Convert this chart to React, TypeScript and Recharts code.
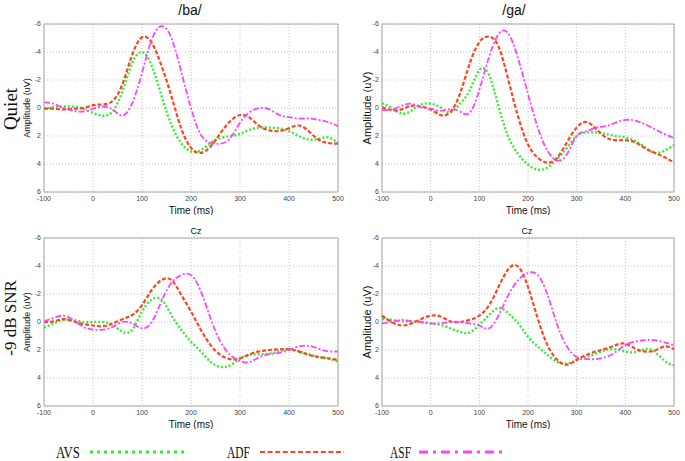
import { CartesianGrid, Line, LineChart, ReferenceArea, XAxis, YAxis } from "recharts";

// sample times (ms), every 20 ms
const TIME = [-100, -80, -60, -40, -20, 0, 20, 40, 60, 80, 100, 120, 140, 160, 180, 200, 220, 240, 260, 280, 300, 320, 340, 360, 380, 400, 420, 440, 460, 480, 500];
const X_TICKS = [-100, 0, 100, 200, 300, 400, 500];
const Y_TICKS = [-6, -4, -2, 0, 2, 4, 6];

// /ba/ quiet
const BA_QUIET_AVS = [0.05, -0.05, -0.1, -0.1, 0.05, 0.35, 0.55, 0.25, -1.2, -3.2, -4.0, -3.0, -0.85, 1.2, 2.5, 3.1, 3.0, 2.5, 2.15, 2.0, 1.85, 1.55, 1.4, 1.4, 1.45, 1.65, 2.0, 2.25, 2.2, 2.1, 2.5];
const BA_QUIET_ADF = [0.05, 0.05, 0.1, 0.05, 0, -0.2, -0.25, -0.5, -1.7, -3.8, -5.05, -4.65, -3.0, -0.85, 1.45, 2.85, 3.2, 2.75, 1.8, 0.95, 0.5, 0.7, 1.3, 1.6, 1.65, 1.45, 1.25, 1.65, 2.25, 2.5, 2.55];
const BA_QUIET_ASF = [-0.4, -0.3, 0.0, 0.2, 0.25, 0.05, -0.1, 0.1, 0.55, -0.35, -2.5, -4.9, -5.85, -5.0, -2.6, 0, 1.9, 2.5, 2.55, 2.15, 1.05, 0.3, 0, 0.1, 0.5, 0.65, 0.75, 0.75, 0.85, 1.0, 1.3];

// /ga/ quiet
const GA_QUIET_AVS = [-0.35, 0, 0.4, 0.2, -0.25, -0.3, -0.05, 0.3, -0.3, -1.25, -2.7, -2.35, -0.05, 2.1, 3.3, 4.05, 4.4, 4.25, 3.65, 2.85, 2.0, 1.75, 1.75, 1.85, 2.0, 2.1, 2.35, 2.8, 3.2, 3.05, 2.65];
const GA_QUIET_ADF = [-0.05, 0.15, 0.1, -0.15, -0.1, 0.1, 0.5, 0.3, -1.0, -3.15, -4.7, -5.1, -4.35, -1.95, 0.65, 2.6, 3.55, 3.9, 3.55, 2.45, 1.4, 1.0, 1.5, 2.1, 2.3, 2.3, 2.45, 2.85, 3.2, 3.5, 3.9];
const GA_QUIET_ASF = [0.15, 0.1, -0.15, -0.3, -0.05, 0.05, 0.2, 0.1, 0.25, 0.35, -1.3, -3.65, -5.3, -5.3, -3.5, -1.0, 1.4, 3.05, 3.75, 3.3, 2.0, 1.65, 1.4, 1.3, 1.05, 0.85, 0.9, 1.15, 1.5, 1.85, 2.15];

// /ba/ -9 dB SNR
const BA_NOISE_AVS = [0.4, 0.1, -0.15, -0.15, 0, 0, 0, 0.2, 0.7, 0.55, -0.75, -1.6, -1.6, -0.5, 0.55, 1.4, 2.1, 2.85, 3.2, 3.1, 2.6, 2.35, 2.3, 2.25, 2.1, 1.95, 2.1, 2.3, 2.5, 2.6, 2.85];
const BA_NOISE_ADF = [0, -0.05, -0.2, -0.05, 0.15, 0.25, 0.3, 0.1, -0.2, -0.5, -1.2, -2.3, -3.0, -3.0, -1.95, -0.75, 0.55, 1.65, 2.35, 2.65, 2.6, 2.3, 2.1, 2.0, 1.95, 1.95, 2.1, 2.35, 2.5, 2.6, 2.7];
const BA_NOISE_ASF = [-0.05, -0.3, -0.45, -0.15, 0.35, 0.55, 0.55, 0.35, 0, 0.1, 0.45, 0, -1.5, -2.8, -3.35, -3.35, -2.2, -0.25, 1.4, 2.35, 2.8, 2.85, 2.5, 2.3, 2.2, 2.0, 1.75, 1.7, 1.9, 2.1, 2.1];

// /ga/ -9 dB SNR
const GA_NOISE_AVS = [-0.2, -0.15, -0.05, -0.05, 0, 0.1, 0.2, 0.45, 0.7, 0.75, 0.2, -0.5, -1.0, -0.6, 0.1, 1.05, 1.75, 2.35, 2.85, 2.95, 2.75, 2.5, 2.25, 2.0, 1.95, 2.1, 2.15, 1.95, 2.1, 2.75, 3.1];
const GA_NOISE_ADF = [-0.45, 0, 0.25, 0.1, -0.2, -0.45, -0.4, -0.05, 0, -0.15, -0.45, -1.2, -2.55, -3.8, -3.95, -2.5, -0.25, 1.65, 2.7, 3.05, 2.7, 2.35, 2.1, 1.9, 1.65, 1.55, 1.9, 2.1, 2.05, 1.75, 1.95];
const GA_NOISE_ASF = [0.1, 0, -0.15, -0.05, 0, 0.1, 0.1, 0, 0, 0.1, 0.25, 0.45, -0.5, -1.95, -3.0, -3.5, -3.35, -1.95, 0.2, 1.75, 2.5, 2.65, 2.65, 2.5, 2.15, 1.65, 1.4, 1.3, 1.3, 1.45, 1.65];

const GREEN = "#33ee33";
const RED = "#ff4422";
const MAGENTA = "#ff44ff";
const SANS = "'Liberation Sans', Arial, sans-serif";
const SERIF = "'Liberation Serif', 'Times New Roman', serif";

type PanelProps = {
  left: number;
  top: number;
  height: number;
  marginLeft: number;
  marginRight: number;
  marginTop: number;
  labelSize: number;
  avs: number[];
  adf: number[];
  asf: number[];
};

function Panel({ left, top, height, marginLeft, marginRight, marginTop, labelSize, avs, adf, asf }: PanelProps) {
  const data = TIME.map((t, i) => ({ t, avs: avs[i], adf: adf[i], asf: asf[i] }));
  const tick = { fontSize: 7, fill: "#444", fontFamily: SANS };

  return (
    <div style={{ position: "absolute", left, top }}>
      <LineChart width={345} height={height} data={data}
        margin={{ top: marginTop, right: marginRight, left: marginLeft, bottom: 0 }}>
        <CartesianGrid stroke="#c4c4c4" strokeDasharray="1 2" />
        <XAxis dataKey="t" type="number" domain={[-100, 500]} ticks={X_TICKS} height={23}
          axisLine={false} tickLine={false} tickSize={0} tickMargin={4} tick={tick}
          label={{ value: "Time (ms)", position: "insideBottom", offset: 1, fontSize: 10, fill: "#111", fontFamily: SANS }} />
        <YAxis type="number" domain={[-6, 6]} ticks={Y_TICKS} reversed width={30}
          axisLine={false} tickLine={false} tickSize={0} tickMargin={3} tick={tick}
          label={{ value: "Amplitude (uV)", angle: -90, position: "insideLeft", offset: 15 - (marginLeft - 12),
            fontSize: labelSize, fill: "#111", fontFamily: SANS, style: { textAnchor: "middle" } }} />
        <ReferenceArea x1={-100} x2={500} y1={-6} y2={6} fill="none" stroke="#a8a8a8" strokeWidth={1} />
        <Line dataKey="avs" type="natural" stroke={GREEN} strokeWidth={2.4} strokeDasharray="2 2" dot={false} isAnimationActive={false} />
        <Line dataKey="adf" type="natural" stroke={RED} strokeWidth={2.2} strokeDasharray="4 2" dot={false} isAnimationActive={false} />
        <Line dataKey="asf" type="natural" stroke={MAGENTA} strokeWidth={1.8} strokeDasharray="6 2 2 2" dot={false} isAnimationActive={false} />
      </LineChart>
    </div>
  );
}

export default function App() {
  return (
    <div style={{ position: "absolute", left: 0, top: 0, width: 685, height: 461, background: "#fff", overflow: "hidden" }}>
      <Panel left={0} top={0} height={215} marginLeft={14} marginRight={7} marginTop={24} labelSize={9}
        avs={BA_QUIET_AVS} adf={BA_QUIET_ADF} asf={BA_QUIET_ASF} />
      <Panel left={340} top={0} height={215} marginLeft={12} marginRight={11} marginTop={24} labelSize={11}
        avs={GA_QUIET_AVS} adf={GA_QUIET_ADF} asf={GA_QUIET_ASF} />
      <Panel left={0} top={215} height={214} marginLeft={14} marginRight={7} marginTop={23} labelSize={9}
        avs={BA_NOISE_AVS} adf={BA_NOISE_ADF} asf={BA_NOISE_ASF} />
      <Panel left={340} top={215} height={214} marginLeft={12} marginRight={11} marginTop={23} labelSize={11}
        avs={GA_NOISE_AVS} adf={GA_NOISE_ADF} asf={GA_NOISE_ASF} />

      <svg width={685} height={461} style={{ position: "absolute", left: 0, top: 0, pointerEvents: "none" }}>
        <text x={190} y={15} fontSize={14} fontFamily={SANS} textAnchor="middle" fill="#111">/ba/</text>
        <text x={514} y={15} fontSize={14} fontFamily={SANS} textAnchor="middle" fill="#111">/ga/</text>
        <text x={196} y={234} fontSize={9} fontFamily={SANS} textAnchor="middle" fill="#111">Cz</text>
        <text x={527} y={234} fontSize={9} fontFamily={SANS} textAnchor="middle" fill="#111">Cz</text>

        <text x={17} y={109} fontSize={19} fontFamily={SERIF} textAnchor="middle" fill="#111"
          transform="rotate(-90 17 109)">Quiet</text>
        <text x={16} y={318} fontSize={17} fontFamily={SERIF} textAnchor="middle" fill="#111"
          transform="rotate(-90 16 318)">-9 dB SNR</text>

        <text x={56} y={458} fontSize={16} fontFamily={SERIF} fill="#111" textLength={24} lengthAdjust="spacingAndGlyphs">AVS</text>
        <line x1={90} y1={452} x2={184} y2={452} stroke={GREEN} strokeWidth={3} strokeDasharray="3 4" />
        <text x={227} y={458} fontSize={16} fontFamily={SERIF} fill="#111" textLength={23} lengthAdjust="spacingAndGlyphs">ADF</text>
        <line x1={260} y1={452} x2={344} y2={452} stroke={RED} strokeWidth={2} strokeDasharray="5 2.6" />
        <text x={390} y={458} fontSize={16} fontFamily={SERIF} fill="#111" textLength={21} lengthAdjust="spacingAndGlyphs">ASF</text>
        <line x1={419} y1={452} x2={503} y2={452} stroke={MAGENTA} strokeWidth={3} strokeDasharray="9 5 3 5" />
      </svg>
    </div>
  );
}
